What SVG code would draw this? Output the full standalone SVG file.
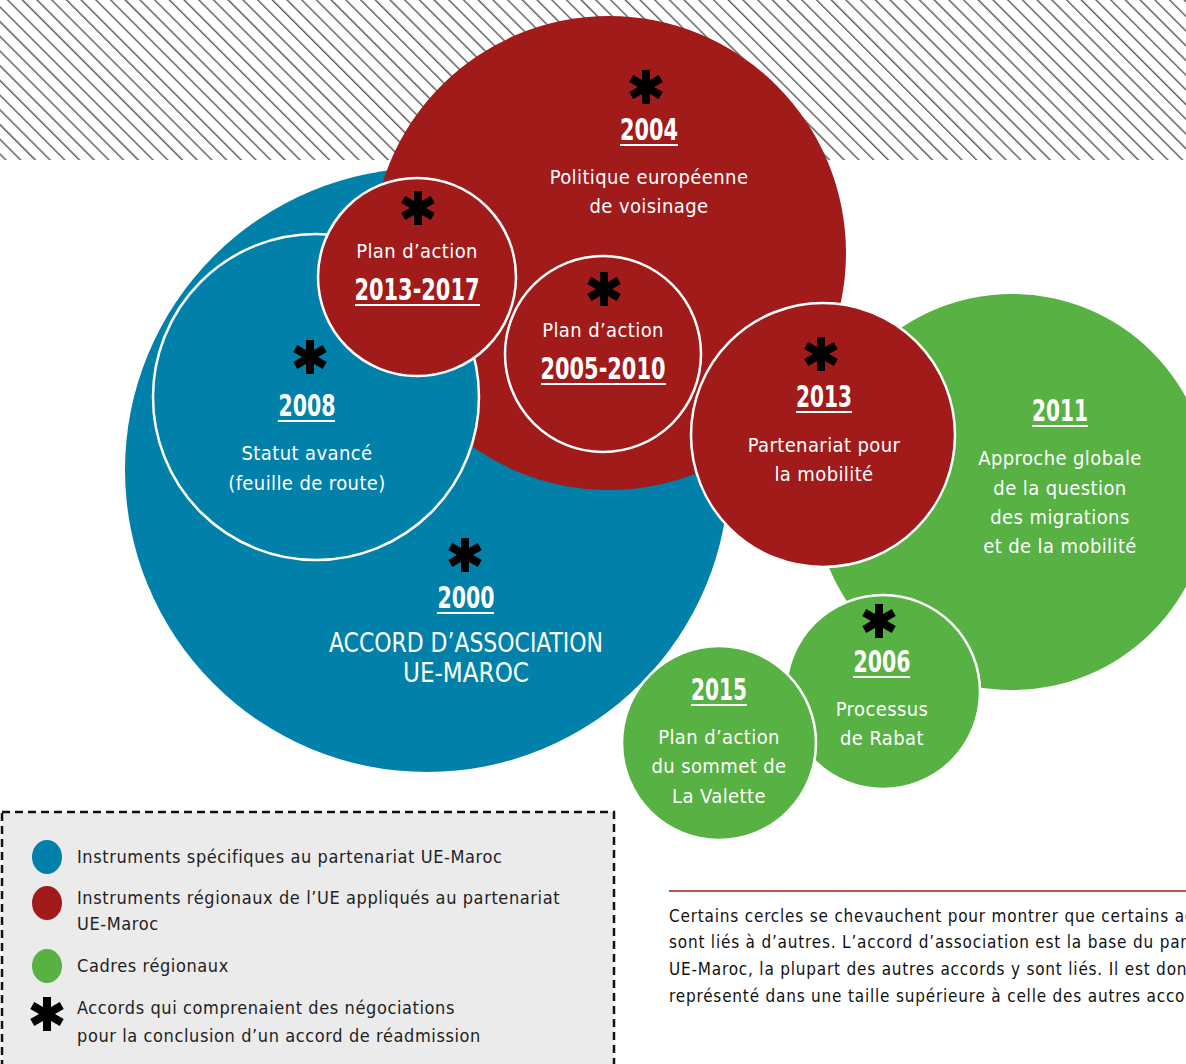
<svg xmlns="http://www.w3.org/2000/svg" width="1186" height="1064" viewBox="0 0 1186 1064">
<style>
text{font-family:"DejaVu Sans Condensed","Liberation Sans",sans-serif;}
.yr{font-size:30px;font-weight:bold;fill:#fff;text-anchor:middle;}
.lb{font-size:20px;fill:#fff;text-anchor:middle;letter-spacing:0.4px;}
.big{font-size:27px;fill:#fff;text-anchor:middle;}
.ul{stroke:#fff;stroke-width:2;}
.lg{font-size:18px;fill:#222;letter-spacing:0.6px;}
.nt{font-size:17px;fill:#111;letter-spacing:0.8px;}
.blue{fill:#0181a9;}
.red{fill:#a11b1b;}
.green{fill:#57b143;}
.ws{stroke:#fff;stroke-width:2.5;}
</style>
<defs>
<pattern id="hatch" patternUnits="userSpaceOnUse" width="10.4" height="10.4" patternTransform="rotate(45)">
<line x1="0" y1="5" x2="10.4" y2="5" stroke="#555" stroke-width="1.4"/>
</pattern>
<g id="ast">
<rect x="-4" y="-17" width="8" height="34" fill="#000"/>
<rect x="-4" y="-17" width="8" height="34" fill="#000" transform="rotate(60)"/>
<rect x="-4" y="-17" width="8" height="34" fill="#000" transform="rotate(120)"/>
</g>
</defs>
<rect width="1186" height="1064" fill="#fff"/>
<rect x="0" y="0" width="1186" height="160" fill="url(#hatch)"/>
<g id="connectors"></g>

<g id="n2011">
<circle cx="1012" cy="492" r="198" class="green"/>
<text class="yr" x="1060" y="421" textLength="56" lengthAdjust="spacingAndGlyphs">2011</text>
<line class="ul" x1="1032" y1="426" x2="1088" y2="426"/>
<text class="lb" x="1060" y="465">Approche globale</text>
<text class="lb" x="1060" y="495">de la question</text>
<text class="lb" x="1060" y="524">des migrations</text>
<text class="lb" x="1060" y="553">et de la mobilité</text>
</g>

<g id="n2000">
<circle cx="427" cy="470" r="302" class="blue"/>
</g>
<g id="n2004">
<circle cx="609" cy="253" r="237" class="red"/>
<use href="#ast" x="646" y="87"/>
<text class="yr" x="649" y="140" textLength="58" lengthAdjust="spacingAndGlyphs">2004</text>
<line class="ul" x1="620" y1="145" x2="678" y2="145"/>
<text class="lb" x="649" y="184">Politique européenne</text>
<text class="lb" x="649" y="213">de voisinage</text>
</g>
<g id="n2000-label">
<use href="#ast" x="465" y="555"/>
<text class="yr" x="466" y="608" textLength="57" lengthAdjust="spacingAndGlyphs">2000</text>
<line class="ul" x1="437" y1="613" x2="494" y2="613"/>
<text class="big" x="466" y="652" textLength="274" lengthAdjust="spacingAndGlyphs">ACCORD D’ASSOCIATION</text>
<text class="big" x="466" y="682" textLength="126" lengthAdjust="spacingAndGlyphs">UE-MAROC</text>
</g>
<g id="n2008">
<circle cx="316" cy="397" r="163" class="blue ws"/>
<use href="#ast" x="310" y="357"/>
<text class="yr" x="307" y="416" textLength="57" lengthAdjust="spacingAndGlyphs">2008</text>
<line class="ul" x1="278" y1="421" x2="335" y2="421"/>
<text class="lb" x="307" y="460">Statut avancé</text>
<text class="lb" x="307" y="490">(feuille de route)</text>
</g>
<g id="n2013-2017">
<circle cx="417" cy="277" r="99" class="red ws"/>
<use href="#ast" x="418" y="208"/>
<text class="lb" x="417" y="258">Plan d’action</text>
<text class="yr" x="417" y="300" textLength="125" lengthAdjust="spacingAndGlyphs">2013-2017</text>
<line class="ul" x1="355" y1="305" x2="480" y2="305"/>
</g>
<g id="n2005-2010">
<circle cx="603" cy="354" r="98" class="red ws"/>
<use href="#ast" x="604" y="289"/>
<text class="lb" x="603" y="337">Plan d’action</text>
<text class="yr" x="603" y="379" textLength="125" lengthAdjust="spacingAndGlyphs">2005-2010</text>
<line class="ul" x1="541" y1="384" x2="666" y2="384"/>
</g>
<g id="n2013">
<circle cx="823" cy="435" r="132" class="red ws"/>
<use href="#ast" x="821" y="354"/>
<text class="yr" x="824" y="407" textLength="56" lengthAdjust="spacingAndGlyphs">2013</text>
<line class="ul" x1="796" y1="412" x2="852" y2="412"/>
<text class="lb" x="824" y="452">Partenariat pour</text>
<text class="lb" x="824" y="481">la mobilité</text>
</g>
<g id="n2006">
<circle cx="883" cy="692" r="97" class="green ws"/>
<use href="#ast" x="879" y="621"/>
<text class="yr" x="882" y="672" textLength="57" lengthAdjust="spacingAndGlyphs">2006</text>
<line class="ul" x1="853" y1="677" x2="910" y2="677"/>
<text class="lb" x="882" y="716">Processus</text>
<text class="lb" x="882" y="745">de Rabat</text>
</g>
<g id="n2015">
<circle cx="719" cy="743" r="97" class="green ws"/>
<text class="yr" x="719" y="700" textLength="56" lengthAdjust="spacingAndGlyphs">2015</text>
<line class="ul" x1="691" y1="705" x2="747" y2="705"/>
<text class="lb" x="719" y="744">Plan d’action</text>
<text class="lb" x="719" y="773">du sommet de</text>
<text class="lb" x="719" y="803">La Valette</text>
</g>

<g id="legend">
<rect x="2" y="812" width="612" height="270" fill="#ebebeb" stroke="#111" stroke-width="2.5" stroke-dasharray="8,5"/>
<ellipse cx="47" cy="857" rx="15" ry="17" class="blue"/>
<text class="lg" x="77" y="863">Instruments spécifiques au partenariat UE-Maroc</text>
<ellipse cx="47" cy="903" rx="15" ry="17" class="red"/>
<text class="lg" x="77" y="904">Instruments régionaux de l’UE appliqués au partenariat</text>
<text class="lg" x="77" y="930">UE-Maroc</text>
<ellipse cx="47" cy="966" rx="15" ry="17" class="green"/>
<text class="lg" x="77" y="972">Cadres régionaux</text>
<use href="#ast" x="47" y="1014"/>
<text class="lg" x="77" y="1014">Accords qui comprenaient des négociations</text>
<text class="lg" x="77" y="1042">pour la conclusion d’un accord de réadmission</text>
</g>

<g id="note">
<line x1="669" y1="891" x2="1186" y2="891" stroke="#a11b1b" stroke-width="1.5"/>
<text class="nt" x="669" y="922">Certains cercles se chevauchent pour montrer que certains accords</text>
<text class="nt" x="669" y="948">sont liés à d’autres. L’accord d’association est la base du partenariat</text>
<text class="nt" x="669" y="975">UE-Maroc, la plupart des autres accords y sont liés. Il est donc</text>
<text class="nt" x="669" y="1002">représenté dans une taille supérieure à celle des autres accords.</text>
</g>
</svg>
